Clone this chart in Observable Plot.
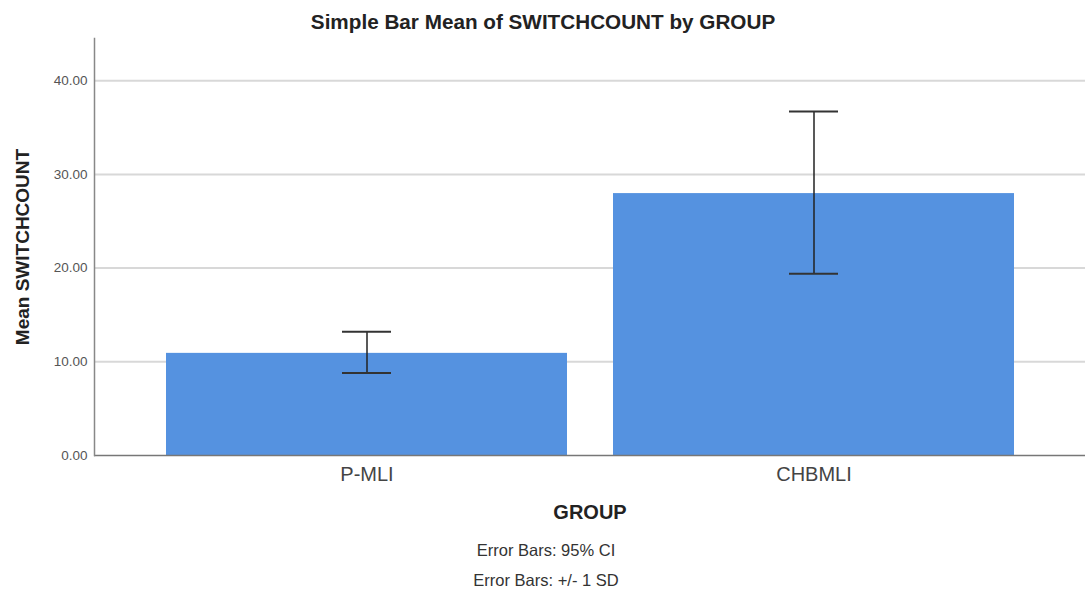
<!DOCTYPE html>
<html>
<head>
<meta charset="utf-8">
<script src="https://cdn.jsdelivr.net/npm/d3@7"></script>
<script src="https://cdn.jsdelivr.net/npm/@observablehq/plot@0.6"></script>
<style>
  html, body { margin: 0; padding: 0; background: #fff; }
  #chart svg { display: block; }
</style>
</head>
<body>
<div id="chart"></div>
<script>
const groups = ["P-MLI", "CHBMLI"];
const means = [10.9, 27.95];
const errLow = [8.8, 19.4];
const errHigh = [13.2, 36.7];
const yTicks = [0, 10, 20, 30, 40];
const gridTicks = [10, 20, 30, 40];
const titleText = "Simple Bar Mean of SWITCHCOUNT by GROUP";
const yLabel = "Mean SWITCHCOUNT";
const xLabel = "GROUP";
const captions = ["Error Bars: 95% CI", "Error Bars: +/- 1 SD"];

const rows = groups.map((g, i) => ({group: g, mean: means[i], lo: errLow[i], hi: errHigh[i]}));
const font = "'Liberation Sans', Arial, sans-serif";

const chart = Plot.plot({
  width: 1085,
  height: 592,
  marginLeft: 94,
  marginRight: 0,
  marginTop: 38,
  marginBottom: 137,
  style: {fontFamily: font, background: "#fff", overflow: "visible"},
  x: {domain: groups, paddingInner: 0.103, paddingOuter: 0.16, axis: null},
  y: {domain: [0, 44.5], axis: null},
  marks: [
    Plot.gridY(gridTicks, {stroke: "#d8d8d8", strokeOpacity: 1, strokeWidth: 2}),
    Plot.barY(rows, {x: "group", y: "mean", fill: "#5592e0"}),
    Plot.ruleX(rows, {x: "group", y1: "lo", y2: "hi", stroke: "#222", strokeWidth: 1.5}),
    Plot.tickY(rows, {x: "group", y: "lo", stroke: "#333", strokeWidth: 2, insetLeft: 176, insetRight: 176}),
    Plot.tickY(rows, {x: "group", y: "hi", stroke: "#333", strokeWidth: 2, insetLeft: 176, insetRight: 176}),
    Plot.ruleY([0], {stroke: "#777", strokeWidth: 1.5}),
    Plot.frame({anchor: "left", stroke: "#888", strokeWidth: 1.5}),
    Plot.axisY(yTicks, {tickSize: 0, tickPadding: 7, fontSize: 13.5, fill: "#555", tickFormat: d => d.toFixed(2), label: null}),
    Plot.axisX({tickSize: 0, tickPadding: 11, fontSize: 20, fill: "#444", label: null}),
    Plot.text([titleText], {frameAnchor: "top", lineAnchor: "middle", dx: -47, dy: -16, fontSize: 20.7, fontWeight: "bold", fill: "#222"}),
    Plot.text([yLabel], {frameAnchor: "left", textAnchor: "middle", lineAnchor: "middle", dx: -72, rotate: -90, fontSize: 19, fontWeight: "bold", fill: "#222"}),
    Plot.text([xLabel], {frameAnchor: "bottom", lineAnchor: "middle", dy: 57, fontSize: 20, fontWeight: "bold", fill: "#222"}),
    Plot.text([captions[0]], {frameAnchor: "bottom", lineAnchor: "middle", dx: -44, dy: 95, fontSize: 16.5, fill: "#333"}),
    Plot.text([captions[1]], {frameAnchor: "bottom", lineAnchor: "middle", dx: -44, dy: 125, fontSize: 16.5, fill: "#333"})
  ]
});
document.getElementById("chart").appendChild(chart);
</script>
</body>
</html>
